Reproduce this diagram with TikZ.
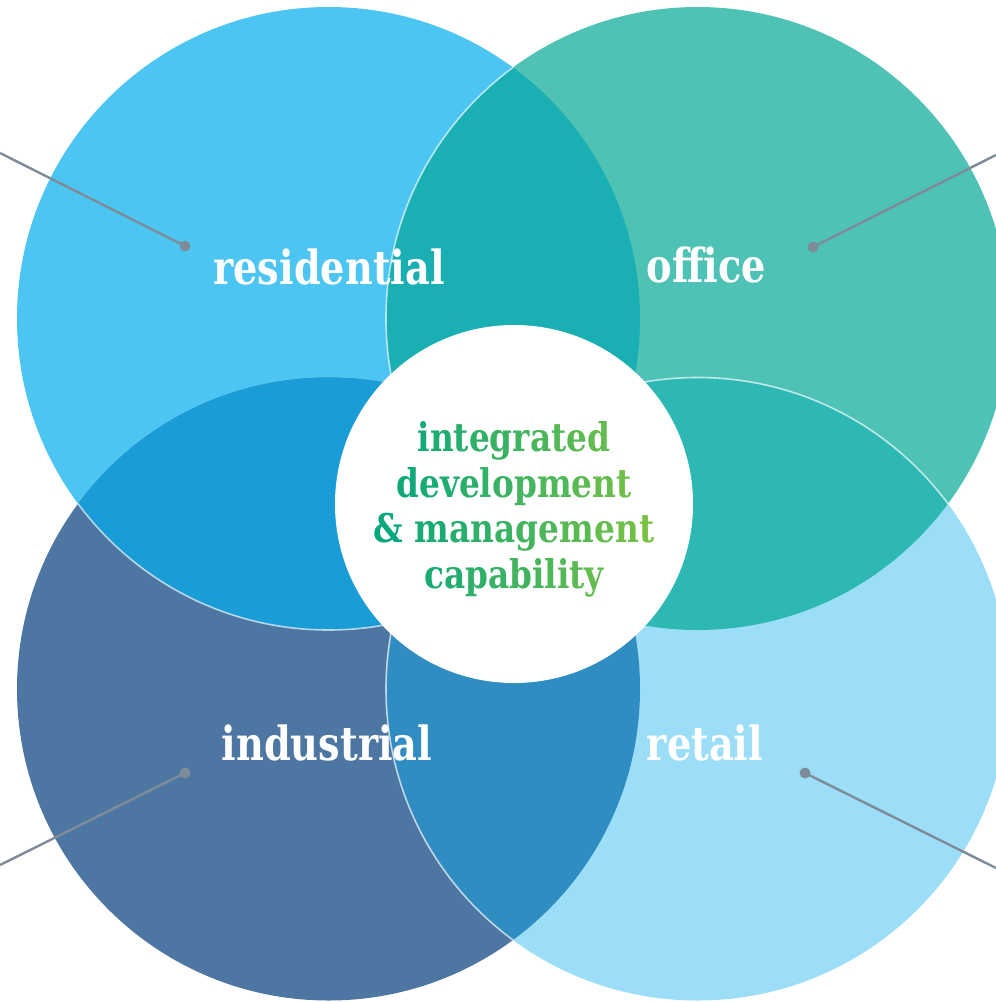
\documentclass[tikz,border=0pt]{standalone}
\usepackage{fontspec}

\newfontfamily\lblfont{DejaVu Serif}[FakeStretch=0.815]
\newfontfamily\corefont{DejaVu Serif}[FakeStretch=0.83]

\definecolor{resblue}{HTML}{4CC5F2}
\definecolor{offteal}{HTML}{4FC2B6}
\definecolor{indblue}{HTML}{4D77A2}
\definecolor{retblue}{HTML}{9CDEF7}
\definecolor{resoff}{HTML}{1AAFB2}
\definecolor{resind}{HTML}{1A9DD7}
\definecolor{offret}{HTML}{2EB8B4}
\definecolor{indret}{HTML}{2F8DC2}
\definecolor{leadgray}{HTML}{7E8C99}
\definecolor{coreL}{HTML}{00A580}
\definecolor{coreR}{HTML}{7CC243}

% colour each letter of a line by its place across the text block
\newdimen\coreW
\ExplSyntaxOn
\box_new:N \l_core_line_box
\box_new:N \l_core_char_box
\dim_new:N \l_core_pos_dim
\NewDocumentCommand \gradline { m }
  {
    \hbox_set:Nn \l_core_line_box {#1}
    \dim_set:Nn \l_core_pos_dim { ( \coreW - \box_wd:N \l_core_line_box ) / 2 }
    \tl_map_inline:nn {#1}
      {
        \hbox_set:Nn \l_core_char_box {##1}
        \exp_args:Nx \color
          { coreR ! \fp_eval:n { max(0, min(100, round( 100 * \dim_to_fp:n { \l_core_pos_dim + \box_wd:N \l_core_char_box / 2 } / \dim_to_fp:n { \coreW } ) )) } ! coreL }
        ##1
        \dim_add:Nn \l_core_pos_dim { \box_wd:N \l_core_char_box }
      }
  }
\ExplSyntaxOff

\tikzset{
  sector/.style={text=white, anchor=base, font=\lblfont\bfseries\fontsize{47}{50}\selectfont},
  core text/.style={align=center, font=\corefont\bfseries\fontsize{39.5}{45.7}\selectfont},
  rim/.style={draw=white, draw opacity=0.65, line width=1.6pt},
  leader/.style={draw=leadgray, line width=2.4pt},
  pin dot/.style={circle, fill=leadgray, minimum size=11pt},
}

\begin{document}
\begin{tikzpicture}[x=1pt,y=1pt]
\tikzstyle{every node}+=[inner sep=0pt]
\useasboundingbox (0,0) rectangle (996,-1002);
\clip (0,0) rectangle (996,-1002);
\coordinate (res) at (328.5,-318.5);
\coordinate (off) at (697.5,-318.5);
\coordinate (ind) at (328.5,-689);
\coordinate (ret) at (697.5,-689);
% the four circles
\fill [resblue] (res) circle (311.5);
\fill [offteal] (off) circle (311.5);
\fill [indblue] (ind) circle (311.5);
\fill [retblue] (ret) circle (311.5);
% overlaps
\begin{scope}
\clip (res) circle (311.5);
\fill [resoff] (off) circle (311.5);
\fill [resind] (ind) circle (311.5);
\draw [rim] (off) circle (311.5);
\end{scope}
\begin{scope}
\clip (ret) circle (311.5);
\fill [offret] (off) circle (311.5);
\fill [indret] (ind) circle (311.5);
\end{scope}
\begin{scope}
\clip (off) circle (311.5);
\draw [rim] (ret) circle (311.5);
\end{scope}
\begin{scope}
\clip (ind) circle (311.5);
\draw [rim] (res) circle (311.5);
\draw [rim] (ret) circle (311.5);
\end{scope}
% hub
\node [circle, fill=white, minimum size=358pt] (hub) at (514,-504) {};
\node [core text] (core) at (514,-509.4) {\settowidth{\coreW}{\&~management}\global\coreW=\coreW
  \gradline{integrated}\\\gradline{development}\\\gradline{\&~management}\\\gradline{capability}};
% labels
\node [sector] (resLabel) at (329,-284) {residential};
\node [sector] (offLabel) at (706.5,-282) {office};
\node [sector] (indLabel) at (327,-760) {industrial};
\node [sector] (retLabel) at (705,-760) {retail};
% leaders
\coordinate (resEnd) at (0,-153);
\coordinate (offEnd) at (996,-155);
\coordinate (indEnd) at (0,-865);
\coordinate (retEnd) at (996,-868);
\node [pin dot] (resDot) at (185,-246) {};
\node [pin dot] (offDot) at (813,-247) {};
\node [pin dot] (indDot) at (185,-773) {};
\node [pin dot] (retDot) at (805,-773) {};
\draw [leader] (resEnd) -- (resDot.center);
\draw [leader] (offEnd) -- (offDot.center);
\draw [leader] (indEnd) -- (indDot.center);
\draw [leader] (retEnd) -- (retDot.center);
\end{tikzpicture}
\end{document}
